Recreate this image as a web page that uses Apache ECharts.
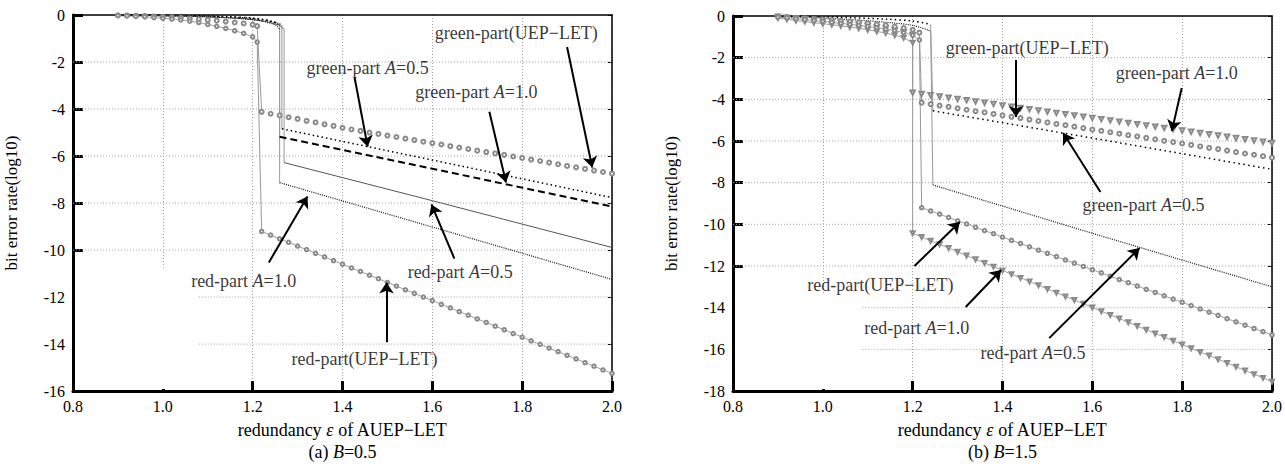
<!DOCTYPE html>
<html><head><meta charset="utf-8">
<script src="https://cdn.jsdelivr.net/npm/echarts@6/dist/echarts.min.js"></script>
<style>html,body{margin:0;padding:0;background:#fff}#c{width:1285px;height:468px}</style>
</head><body><div id="c"></div>
<script>
// ---------- shared x samples ----------
const X_PRE = [0.90,0.92,0.94,0.96,0.98,1.00,1.02,1.04,1.06,1.08,1.10,1.12,1.14,1.16,1.18,1.20];
const X_POST = [1.22,1.24,1.26,1.28,1.30,1.32,1.34,1.36,1.38,1.40,1.42,1.44,1.46,1.48,1.50,1.52,1.54,1.56,1.58,1.60,
  1.62,1.64,1.66,1.68,1.70,1.72,1.74,1.76,1.78,1.80,1.82,1.84,1.86,1.88,1.90,1.92,1.94,1.96,1.98,2.00];
const X_POST_B = [1.20].concat(X_POST);

// horizontal grid values (interior ticks) and the empty box in the lower-left corner of each panel
const Y_GRID_A = [-2,-4,-6,-8,-10,-12,-14];
const Y_GRID_B = [-2,-4,-6,-8,-10,-12,-14,-16];
const BOX_A = [[0.8,-10.74],[1.08,-16]];
const BOX_B = [[0.8,-13.3],[1.088,-18]];

// ---------- (a) B=0.5 ----------
const aGreenUEP_preY = [-0.01,-0.02,-0.03,-0.04,-0.06,-0.08,-0.10,-0.12,-0.15,-0.18,-0.21,-0.24,-0.28,-0.32,-0.36,-0.41];
const aGreenUEP_edge = [1.21,-0.47];
const aGreenUEP_postY = [-4.12,-4.20,-4.27,-4.35,-4.42,-4.50,-4.57,-4.65,-4.72,-4.80,-4.87,-4.93,-5.00,-5.06,-5.13,-5.19,-5.26,-5.32,-5.39,-5.45,
  -5.51,-5.58,-5.64,-5.70,-5.77,-5.83,-5.89,-5.95,-6.02,-6.08,-6.15,-6.21,-6.28,-6.35,-6.42,-6.48,-6.55,-6.62,-6.68,-6.75];
const aRedUEP_preY = [-0.03,-0.04,-0.06,-0.08,-0.11,-0.14,-0.17,-0.21,-0.26,-0.32,-0.40,-0.48,-0.57,-0.67,-0.78,-0.93];
const aRedUEP_edge = [1.21,-1.15];
const aRedUEP_postY = [-9.21,-9.36,-9.52,-9.67,-9.83,-9.98,-10.14,-10.29,-10.45,-10.60,-10.76,-10.91,-11.07,-11.22,-11.38,-11.53,-11.69,-11.84,-12.00,-12.15,
  -12.31,-12.46,-12.62,-12.77,-12.93,-13.08,-13.24,-13.39,-13.55,-13.70,-13.86,-14.01,-14.17,-14.32,-14.48,-14.63,-14.79,-14.94,-15.10,-15.25];
const aGreenA05_pre = [[0.90,0],[0.98,-0.01],[1.06,-0.03],[1.14,-0.07],[1.20,-0.13],[1.24,-0.25],[1.265,-0.42]];
const aGreenA05_post = [[1.265,-4.84],[1.60,-6.17],[2.00,-7.77]];
const aGreenA10_pre = [[0.90,0],[1.00,-0.02],[1.10,-0.06],[1.18,-0.12],[1.22,-0.20],[1.25,-0.32],[1.26,-0.45]];
const aGreenA10_post = [[1.26,-5.18],[1.60,-6.54],[2.00,-8.15]];
const aRedA05_pre = [[0.90,-0.01],[1.00,-0.03],[1.10,-0.08],[1.18,-0.16],[1.23,-0.28],[1.26,-0.45],[1.27,-0.62]];
const aRedA05_post = [[1.27,-6.28],[1.60,-7.90],[2.00,-9.89]];
const aRedA10_pre = [[0.90,-0.01],[1.00,-0.03],[1.10,-0.08],[1.18,-0.16],[1.22,-0.26],[1.25,-0.42],[1.26,-0.60]];
const aRedA10_post = [[1.26,-7.13],[1.60,-9.02],[2.00,-11.25]];

// ---------- (b) B=1.5 ----------
const bGreenA10_preY = [-0.04,-0.08,-0.12,-0.16,-0.20,-0.24,-0.28,-0.32,-0.37,-0.42,-0.48,-0.54,-0.60,-0.68,-0.78,-0.92];
const bGreenA10_postY = [-3.68,-3.74,-3.80,-3.86,-3.92,-3.98,-4.04,-4.10,-4.16,-4.22,-4.29,-4.35,-4.41,-4.47,-4.53,-4.59,-4.65,-4.71,-4.77,-4.83,-4.89,
  -4.95,-5.01,-5.07,-5.13,-5.19,-5.25,-5.31,-5.37,-5.43,-5.50,-5.56,-5.62,-5.68,-5.74,-5.80,-5.86,-5.92,-5.98,-6.04,-6.10];
const bRedA10_preY = [-0.10,-0.16,-0.22,-0.27,-0.32,-0.37,-0.42,-0.47,-0.53,-0.59,-0.66,-0.74,-0.82,-0.92,-1.05,-1.28];
const bRedA10_postY = [-10.43,-10.61,-10.79,-10.96,-11.14,-11.32,-11.50,-11.68,-11.85,-12.03,-12.21,-12.39,-12.57,-12.74,-12.92,-13.10,-13.28,-13.46,-13.63,-13.81,-13.99,
  -14.17,-14.35,-14.52,-14.70,-14.88,-15.06,-15.24,-15.41,-15.59,-15.77,-15.95,-16.13,-16.30,-16.48,-16.66,-16.84,-17.02,-17.19,-17.37,-17.55];
const bGreenUEP_preY = [-0.03,-0.05,-0.08,-0.11,-0.14,-0.17,-0.20,-0.23,-0.27,-0.31,-0.35,-0.40,-0.45,-0.51,-0.58,-0.66];
const bGreenUEP_edge = [1.215,-0.80];
const bGreenUEP_postY = [-4.16,-4.23,-4.30,-4.36,-4.43,-4.50,-4.57,-4.63,-4.70,-4.77,-4.84,-4.90,-4.97,-5.04,-5.11,-5.18,-5.24,-5.31,-5.38,-5.45,
  -5.51,-5.58,-5.65,-5.72,-5.78,-5.85,-5.92,-5.99,-6.05,-6.12,-6.19,-6.26,-6.33,-6.39,-6.46,-6.53,-6.60,-6.66,-6.73,-6.80];
const bRedUEP_preY = [-0.05,-0.09,-0.13,-0.17,-0.22,-0.26,-0.30,-0.35,-0.40,-0.45,-0.50,-0.56,-0.63,-0.70,-0.80,-0.92];
const bRedUEP_edge = [1.215,-1.15];
const bRedUEP_postY = [-9.20,-9.36,-9.51,-9.67,-9.83,-9.98,-10.14,-10.30,-10.45,-10.61,-10.77,-10.92,-11.08,-11.24,-11.39,-11.55,-11.71,-11.86,-12.02,-12.18,
  -12.33,-12.49,-12.65,-12.80,-12.96,-13.12,-13.27,-13.43,-13.59,-13.74,-13.90,-14.06,-14.21,-14.37,-14.53,-14.68,-14.84,-15.00,-15.15,-15.31];
const bGreenA05_pre = [[0.90,0],[0.98,-0.03],[1.06,-0.08],[1.14,-0.15],[1.20,-0.24],[1.24,-0.40]];
const bGreenA05_post = [[1.245,-4.55],[1.60,-5.86],[2.00,-7.36]];
const bRedA05_pre = [[0.90,-0.02],[0.98,-0.08],[1.06,-0.17],[1.14,-0.30],[1.20,-0.45],[1.24,-0.72]];
const bRedA05_post = [[1.245,-8.11],[1.60,-10.43],[2.00,-13.00]];

// ---------- annotations ----------
const aNoteText = ['green-part(UEP\u2212LET)','green-part {i|A}=0.5','green-part {i|A}=1.0','red-part {i|A}=0.5','red-part {i|A}=1.0','red-part(UEP\u2212LET)'];
const aNotePos  = [[1.787,-0.76],[1.456,-2.25],[1.698,-3.27],[1.662,-10.95],[1.18,-11.33],[1.449,-14.64]];
const aArrowFrom = [[1.90,-1.36],[1.427,-2.67],[1.727,-4.12],[1.649,-10.36],[1.236,-10.53],[1.498,-13.92]];
const aArrowTo   = [[1.956,-6.49],[1.456,-5.60],[1.764,-7.13],[1.598,-8.06],[1.322,-7.72],[1.498,-11.38]];
const bNoteText = ['green-part(UEP\u2212LET)','green-part {i|A}=1.0','green-part {i|A}=0.5','red-part(UEP\u2212LET)','red-part {i|A}=1.0','red-part {i|A}=0.5'];
const bNotePos  = [[1.455,-1.54],[1.788,-2.74],[1.714,-9.07],[1.128,-12.91],[1.209,-14.98],[1.468,-16.18]];
const bArrowFrom = [[1.43,-2.11],[1.799,-3.46],[1.618,-8.45],[1.204,-12.0],[1.318,-13.97],[1.504,-15.46]];
const bArrowTo   = [[1.43,-4.85],[1.777,-5.52],[1.535,-5.62],[1.305,-9.89],[1.397,-12.19],[1.705,-11.14]];

const FONT = 'Liberation Serif';
const GRID_COLOR = '#a0a0a0';
const zip = (xs, ys) => xs.map((x, i) => [x, ys[i]]);

function lineSeries(g, data, opts) {
  return Object.assign({
    type: 'line', xAxisIndex: g * 2, yAxisIndex: g * 2, data: data,
    showSymbol: false, symbol: 'none', silent: true, z: 3,
    lineStyle: { color: '#000', width: 1 }
  }, opts);
}
function markerSeries(g, data, sym, size, withLine) {
  return lineSeries(g, data, {
    symbol: sym, symbolSize: size, showSymbol: true, showAllSymbol: true,
    symbolRotate: sym === 'emptyTriangle' ? 180 : 0,
    itemStyle: { color: '#8a8a8a', borderWidth: 0.9 },
    lineStyle: withLine ? { color: '#a0a0a0', width: 1 } : { width: 0, opacity: 0 }
  });
}
function dropSeries(g, top, bottom) {
  return lineSeries(g, [top, bottom], { lineStyle: { color: '#999', width: 1 }, z: 2 });
}
function dotted(w, pat, color) { return { color: color || '#000', width: w, type: pat }; }

const series = [];
// horizontal grid lines: one plain line series per tick value (skipping the empty box area)
function gridSeries(g, values, box) {
  values.forEach(v => {
    const x0 = v < box[0][1] ? box[1][0] : 0.8;
    series.push(lineSeries(g, [[x0, v], [2.0, v]], {
      z: 1, clip: false, lineStyle: { color: GRID_COLOR, type: [1, 2], width: 1 }
    }));
  });
}
gridSeries(0, Y_GRID_A, BOX_A);
gridSeries(1, Y_GRID_B, BOX_B);

// ---- chart (a)
{
  const gPre = zip(X_PRE, aGreenUEP_preY).concat([aGreenUEP_edge]);
  const gPost = zip(X_POST, aGreenUEP_postY);
  series.push(markerSeries(0, gPre, 'emptyCircle', 4, false));
  series.push(markerSeries(0, gPost, 'emptyCircle', 4, false));
  series.push(dropSeries(0, aGreenUEP_edge, gPost[0]));
  const rPre = zip(X_PRE, aRedUEP_preY).concat([aRedUEP_edge]);
  const rPost = zip(X_POST, aRedUEP_postY);
  series.push(markerSeries(0, rPre, 'emptyCircle', 3.5, true));
  series.push(markerSeries(0, rPost, 'emptyCircle', 3.5, true));
  series.push(dropSeries(0, aRedUEP_edge, rPost[0]));

  series.push(lineSeries(0, aGreenA05_pre, { smooth: 0.3, lineStyle: dotted(1.5, [1.5, 3]) }));
  series.push(lineSeries(0, aGreenA05_post, { lineStyle: dotted(1.5, [1.5, 3]) }));
  series.push(dropSeries(0, aGreenA05_pre[aGreenA05_pre.length - 1], aGreenA05_post[0]));
  series.push(lineSeries(0, aGreenA10_pre, { smooth: 0.3, lineStyle: dotted(1.5, [1.5, 2.5]) }));
  series.push(lineSeries(0, aGreenA10_post, { lineStyle: dotted(2, [7, 4]) }));
  series.push(dropSeries(0, aGreenA10_pre[aGreenA10_pre.length - 1], aGreenA10_post[0]));
  series.push(lineSeries(0, aRedA05_pre, { smooth: 0.3, lineStyle: { color: '#555', width: 1 } }));
  series.push(lineSeries(0, aRedA05_post, { lineStyle: { color: '#555', width: 1 } }));
  series.push(dropSeries(0, aRedA05_pre[aRedA05_pre.length - 1], aRedA05_post[0]));
  series.push(lineSeries(0, aRedA10_pre, { smooth: 0.3, lineStyle: dotted(1.2, [1, 1.2], '#111') }));
  series.push(lineSeries(0, aRedA10_post, { lineStyle: dotted(1.2, [1, 1.2], '#111') }));
  series.push(dropSeries(0, aRedA10_pre[aRedA10_pre.length - 1], aRedA10_post[0]));
}
// ---- chart (b)
{
  const gaPre = zip(X_PRE, bGreenA10_preY), gaPost = zip(X_POST_B, bGreenA10_postY);
  series.push(markerSeries(1, gaPre, 'emptyTriangle', 4.5, false));
  series.push(markerSeries(1, gaPost, 'emptyTriangle', 4.5, false));
  series.push(dropSeries(1, gaPre[gaPre.length - 1], gaPost[0]));
  const raPre = zip(X_PRE, bRedA10_preY), raPost = zip(X_POST_B, bRedA10_postY);
  series.push(markerSeries(1, raPre, 'emptyTriangle', 4, true));
  series.push(markerSeries(1, raPost, 'emptyTriangle', 4, true));
  series.push(dropSeries(1, raPre[raPre.length - 1], raPost[0]));
  const guPre = zip(X_PRE, bGreenUEP_preY).concat([bGreenUEP_edge]), guPost = zip(X_POST, bGreenUEP_postY);
  series.push(markerSeries(1, guPre, 'emptyCircle', 4, false));
  series.push(markerSeries(1, guPost, 'emptyCircle', 4, false));
  series.push(dropSeries(1, bGreenUEP_edge, guPost[0]));
  const ruPre = zip(X_PRE, bRedUEP_preY).concat([bRedUEP_edge]), ruPost = zip(X_POST, bRedUEP_postY);
  series.push(markerSeries(1, ruPre, 'emptyCircle', 3.5, true));
  series.push(markerSeries(1, ruPost, 'emptyCircle', 3.5, true));
  series.push(dropSeries(1, bRedUEP_edge, ruPost[0]));
  series.push(lineSeries(1, bGreenA05_pre, { smooth: 0.3, lineStyle: dotted(1.5, [1.5, 3]) }));
  series.push(lineSeries(1, bGreenA05_post, { lineStyle: dotted(1.5, [1.5, 3.5]) }));
  series.push(dropSeries(1, bGreenA05_pre[bGreenA05_pre.length - 1], bGreenA05_post[0]));
  series.push(lineSeries(1, bRedA05_pre, { smooth: 0.3, lineStyle: dotted(1.2, [1, 1.2], '#111') }));
  series.push(lineSeries(1, bRedA05_post, { lineStyle: dotted(1.2, [1, 1.2], '#111') }));
  series.push(dropSeries(1, bRedA05_pre[bRedA05_pre.length - 1], bRedA05_post[0]));
}
// ---- annotations
function notes(g, texts, pos, from, to) {
  series.push({
    type: 'lines', coordinateSystem: 'cartesian2d', xAxisIndex: g * 2, yAxisIndex: g * 2, z: 6, silent: true,
    symbol: ['none', 'arrow'], symbolSize: 11,
    lineStyle: { color: '#000', width: 2, opacity: 1, curveness: 0 },
    data: from.map((f, i) => ({ coords: [f, to[i]] }))
  });
  series.push({
    type: 'scatter', xAxisIndex: g * 2, yAxisIndex: g * 2, symbolSize: 0, z: 7, silent: true,
    data: pos.map((p, i) => ({
      value: p,
      label: {
        show: true, position: 'inside', formatter: texts[i],
        color: '#000', fontFamily: FONT, fontSize: 18, textBorderWidth: 0,
        rich: { i: { fontStyle: 'italic', fontFamily: FONT, fontSize: 18, color: '#000', textBorderWidth: 0 } }
      }
    }))
  });
}
notes(0, aNoteText, aNotePos, aArrowFrom, aArrowTo);
notes(1, bNoteText, bNotePos, bArrowFrom, bArrowTo);

function xAxes(g, sub, letter) {
  return [{
    type: 'value', gridIndex: g, min: 0.8, max: 2.0, interval: 0.2, position: 'bottom',
    axisLine: { show: true, onZero: false, lineStyle: { color: '#000', width: 3 } },
    axisTick: { show: true, inside: true, length: 10, lineStyle: { color: '#000', width: 3 } },
    axisLabel: { show: true, formatter: v => v.toFixed(1), fontFamily: FONT, fontSize: 16, color: '#000', margin: 7 },
    splitLine: { show: true, lineStyle: { color: GRID_COLOR, type: [1, 2], width: 1 } },
    name: 'redundancy {i|\u03b5} of AUEP\u2212LET\n(' + letter + ') {i|B}=' + sub,
    nameLocation: 'middle', nameGap: 13,
    nameTextStyle: { fontFamily: FONT, fontSize: 18, color: '#000', lineHeight: 22,
      rich: { i: { fontStyle: 'italic', fontFamily: FONT, fontSize: 18, color: '#000', lineHeight: 22 } } }
  }, {
    type: 'value', gridIndex: g, min: 0.8, max: 2.0, interval: 0.2, position: 'top',
    axisLine: { show: true, onZero: false, lineStyle: { color: '#000', width: 1.5 } },
    axisTick: { show: false }, axisLabel: { show: false }, splitLine: { show: false }
  }];
}
function yAxes(g, min) {
  return [{
    type: 'value', gridIndex: g, min: min, max: 0, interval: 2, position: 'left',
    axisLine: { show: true, onZero: false, lineStyle: { color: '#000', width: 3 } },
    axisTick: { show: true, inside: true, length: 10, lineStyle: { color: '#000', width: 3 } },
    axisLabel: { show: true, fontFamily: FONT, fontSize: 16, color: '#000', margin: 8 },
    splitLine: { show: false },
    name: 'bit error rate(log10)', nameLocation: 'middle', nameGap: 53,
    nameTextStyle: { fontFamily: FONT, fontSize: 17, color: '#000' }
  }, {
    type: 'value', gridIndex: g, min: min, max: 0, interval: 2, position: 'right',
    axisLine: { show: true, onZero: false, lineStyle: { color: '#000', width: 1.5 } },
    axisLabel: { show: false }, splitLine: { show: false },
    axisTick: { show: true, inside: true, length: 4, lineStyle: { color: '#000', width: 1 } }
  }];
}

const xs = xAxes(0, '0.5', 'a').concat(xAxes(1, '1.5', 'b'));
const ys = yAxes(0, -16).concat(yAxes(1, -18));

const chart = echarts.init(document.getElementById('c'), null, { renderer: 'svg' });
chart.setOption({
  animation: false,
  backgroundColor: '#fff',
  grid: [
    { left: 73, right: 673, top: 15, bottom: 76 },
    { left: 733, right: 13, top: 16, bottom: 77 }
  ],
  xAxis: xs,
  yAxis: ys,
  series: series
});
// white empty boxes (cover the vertical grid lines there), placed through the axes' own scales
function boxRect(g, box) {
  const p1 = chart.convertToPixel({ gridIndex: g }, box[0]);
  const p2 = chart.convertToPixel({ gridIndex: g }, box[1]);
  return { type: 'rect', z: 1, silent: true,
    shape: { x: p1[0] + 2, y: p1[1], width: p2[0] - p1[0] - 2, height: p2[1] - p1[1] - 2 },
    style: { fill: '#fff' } };
}
chart.setOption({ graphic: [boxRect(0, BOX_A), boxRect(1, BOX_B)] });
</script>
</body></html>
